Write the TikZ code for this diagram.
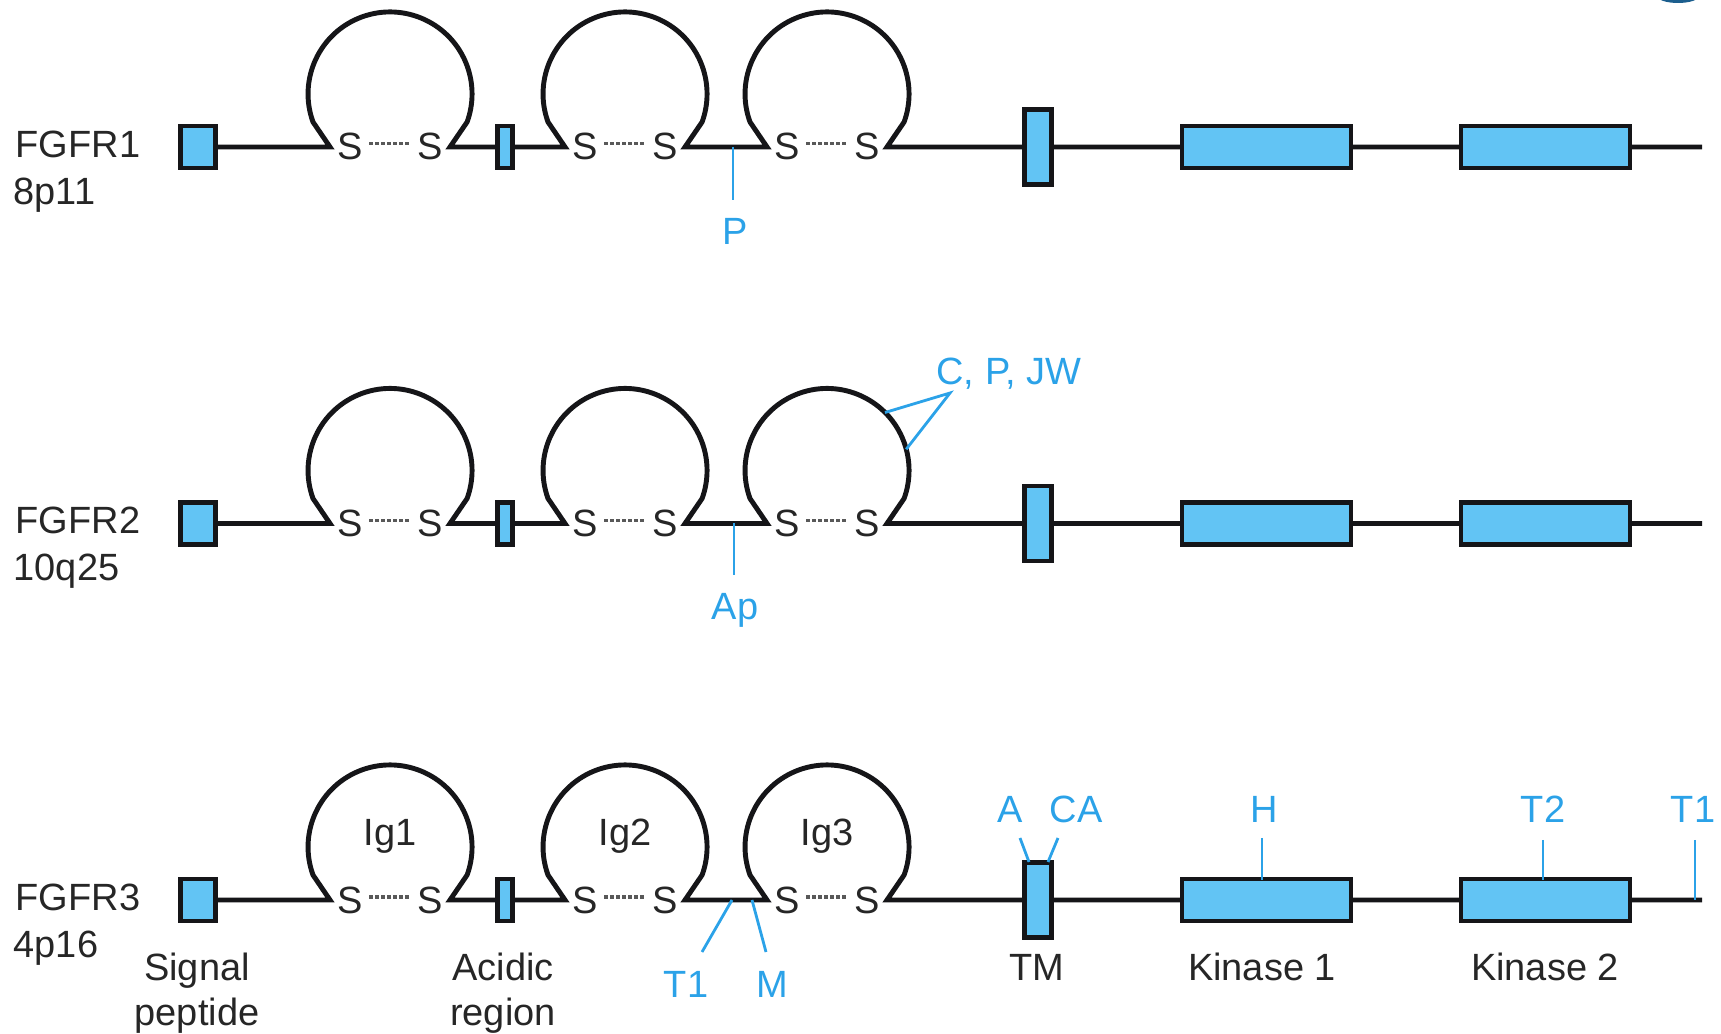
\documentclass[tikz,border=0pt]{standalone}
\usepackage{fontspec}
\setmainfont{Liberation Sans}
\usetikzlibrary{calc}
\definecolor{fgfrBlue}{HTML}{62C4F4}
\definecolor{fgfrMut}{HTML}{2BA2E8}
\definecolor{fgfrInk}{HTML}{151518}
\definecolor{fgfrLogo}{HTML}{1B5E8E}

\begin{document}
\begin{tikzpicture}[
  x=0.01cm, y=0.01cm, font=\fontsize{10.8}{12.8}\selectfont,
  dom/.style={draw=fgfrInk, fill=fgfrBlue, line width=1.2pt, inner sep=0pt,
              minimum height=0.42cm},
  bb/.style={draw=fgfrInk, line width=1.4pt, line join=miter},
  sbond/.style={draw=black!65, line width=0.9pt, dash pattern=on 1pt off 0.7pt,
                shorten <=0.06cm, shorten >=0.06cm},
  txt/.style={inner sep=0pt, text=black!85},
  mut/.style={draw=fgfrMut, line width=0.8pt},
  mtx/.style={inner sep=0pt, text=fgfrMut, anchor=base}
]
\useasboundingbox (0,0) rectangle (1721,1033);
\fill[fgfrLogo] (1678,1037) ellipse [x radius=21, y radius=7];

% ---- the three receptors
\foreach \r/\yb/\chr in {1/886/8p11, 2/509.5/10q25, 3/133/4p16}{
  \node[txt, anchor=base west] (nm\r) at (15,\yb-10.5) {FGFR\r};
  \node[txt, anchor=base west] (ch\r) at (13,\yb-57.5) {\chr};
  \node[dom, minimum width=0.35cm] (sp\r) at (198,\yb) {};
  \node[dom, minimum width=0.15cm] (ac\r) at (505,\yb) {};
  \node[dom, minimum width=0.27cm, minimum height=0.75cm] (tm\r) at (1038,\yb) {};
  \node[dom, minimum width=1.69cm] (ka\r) at (1266.5,\yb) {};
  \node[dom, minimum width=1.69cm] (kb\r) at (1545.5,\yb) {};
  \coordinate (end\r) at (1702,\yb);
  % ---- Ig loops, S--S bridge
  \foreach \i/\c in {1/390, 2/625, 3/827}{
    \coordinate (ig\i\r) at (\c,\yb+53);
    \coordinate (fa\i\r) at (\c-60,\yb);
    \coordinate (fb\i\r) at (\c+60,\yb);
    \node[txt, anchor=base] (sa\i\r) at (\c-40,\yb-13) {S};
    \node[txt, anchor=base] (sb\i\r) at (\c+40,\yb-13) {S};
    \draw[sbond] ([yshift=0.03cm]sa\i\r.east) -- ([yshift=0.03cm]sb\i\r.west);
  }
  % ---- backbone
  \draw[bb] (sp\r.east) -- (fa1\r) -- ++(-17,25) arc[start angle=200, end angle=-20, radius=82]
      -- (fb1\r) -- (ac\r.west)
    (ac\r.east) -- (fa2\r) -- ++(-17,25) arc[start angle=200, end angle=-20, radius=82]
      -- (fb2\r) -- (fa3\r) -- ++(-17,25) arc[start angle=200, end angle=-20, radius=82]
      -- (fb3\r) -- (tm\r.west)
    (tm\r.east) -- (ka\r.west)
    (ka\r.east) -- (kb\r.west)
    (kb\r.east) -- (end\r);
}

% ---- domain names
\foreach \i/\c in {1/390, 2/625, 3/827}{
  \node[txt, anchor=base] (igt\i) at (\c,188) {Ig\i};
}
\node[txt, align=center, anchor=north] (lsp) at (197,81) {Signal\\peptide};
\node[txt, align=center, anchor=north] (lac) at (503,81) {Acidic\\region};
\node[txt, anchor=base] (ltm) at (1037,53) {TM};
\node[txt, anchor=base] (lka) at (1262,53) {Kinase 1};
\node[txt, anchor=base] (lkb) at (1545,53) {Kinase 2};

% ---- mutations, FGFR1
\coordinate (pm1) at (733,886);
\coordinate (pm1e) at (733,833);
\draw[mut] (pm1) -- (pm1e);
\node[mtx] (pt1) at (735,788) {P};

% ---- mutations, FGFR2
\coordinate (ap2) at (734,509.5);
\coordinate (ap2e) at (734,458);
\draw[mut] (ap2) -- (ap2e);
\node[mtx] (apt2) at (735,413) {Ap};
\coordinate (cpj) at (950,640);
\draw[mut] ([shift={(45:82)}]ig32) -- (cpj) -- ([shift={(15:82)}]ig32);
\node[mtx] (cpjt) at (1009,648) {C, P, JW};

% ---- mutations, FGFR3
\coordinate (t1a) at (732,133);  \coordinate (t1b) at (702,81);
\coordinate (ma) at (752,133);   \coordinate (mb) at (766,81);
\draw[mut] (t1a) -- (t1b);
\draw[mut] (ma) -- (mb);
\node[mtx] (t1t) at (686,36) {T1};
\node[mtx] (mt) at (772,36) {M};

\coordinate (aa) at (1020,195);  \coordinate (ab) at (1029,171);
\coordinate (caa) at (1058,195); \coordinate (cab) at (1048,171);
\draw[mut] (aa) -- (ab);
\draw[mut] (caa) -- (cab);
\node[mtx] (at) at (1010,210) {A};
\node[mtx] (cat) at (1076,210) {CA};

\coordinate (ha) at (1262,195);  \coordinate (hb) at (1262,153);
\draw[mut] (ha) -- (hb);
\node[mtx] (ht) at (1264,210) {H};
\coordinate (t2a) at (1543,193); \coordinate (t2b) at (1543,153);
\draw[mut] (t2a) -- (t2b);
\node[mtx] (t2t) at (1543,210) {T2};
\coordinate (tea) at (1695,193); \coordinate (teb) at (1695,133);
\draw[mut] (tea) -- (teb);
\node[mtx] (tet) at (1693,210) {T1};
\end{tikzpicture}
\end{document}
